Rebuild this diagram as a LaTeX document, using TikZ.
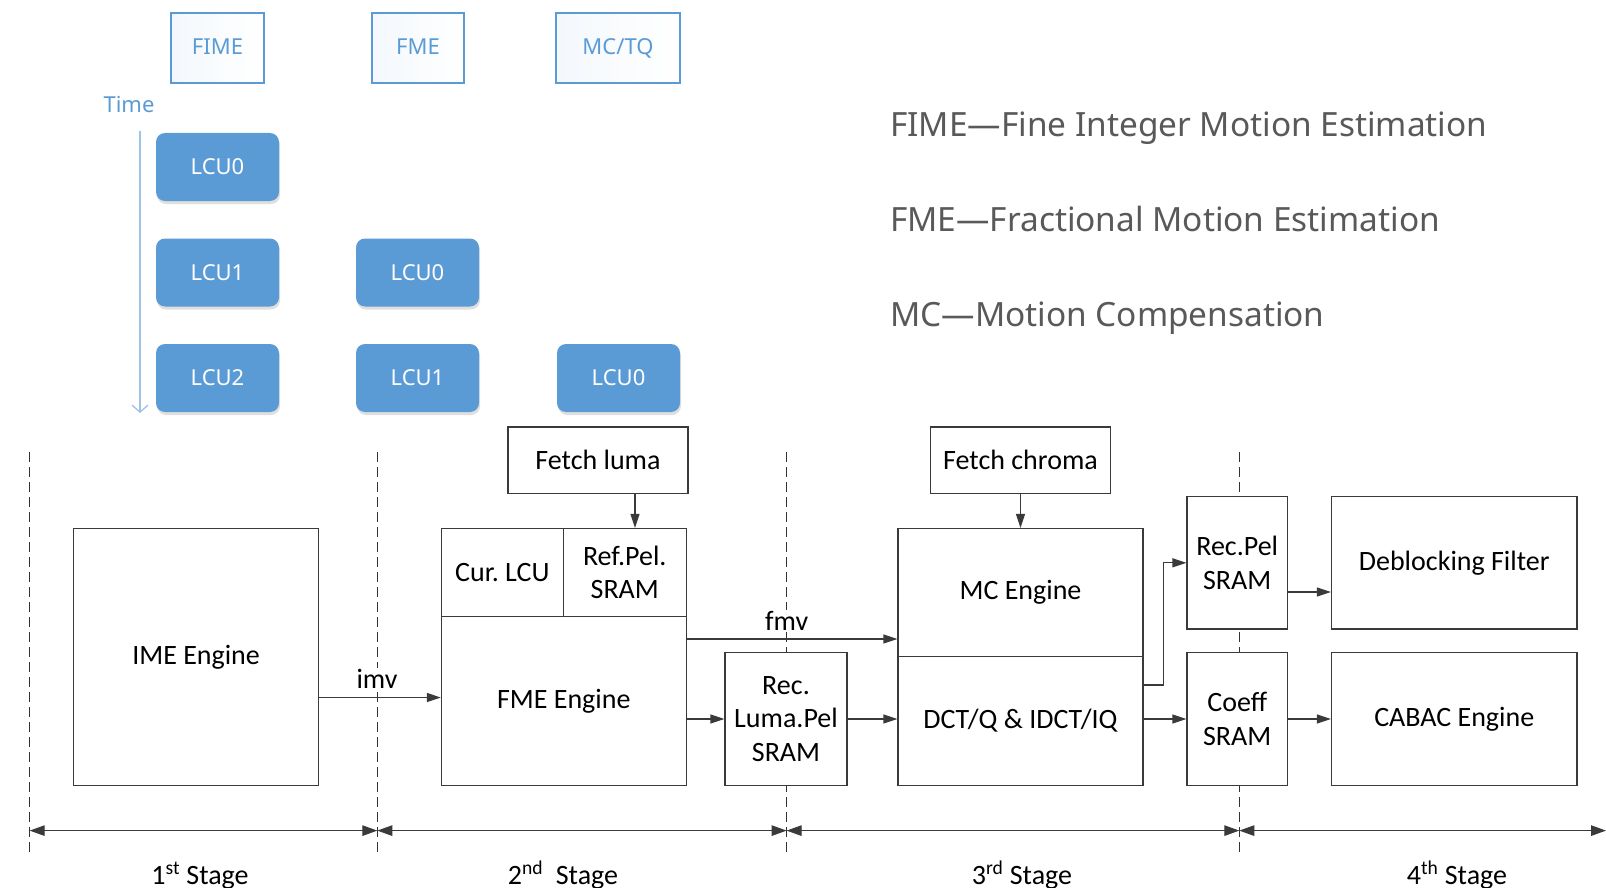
\documentclass[tikz,border=0pt]{standalone}
\usepackage{fontspec}
\setmainfont{Carlito}
\newfontfamily\notos{Noto Sans}
\usetikzlibrary{arrows.meta,shadows}
\definecolor{lcublue}{HTML}{5B9BD5}
\definecolor{timeblue}{HTML}{9DC3E6}
\definecolor{legendgray}{HTML}{595959}
\definecolor{linegray}{HTML}{3A3A3A}
\frenchspacing
\begin{document}
\begin{tikzpicture}[x=1pt,y=-1pt,
  box/.style={draw=linegray, line width=1.2pt, fill=white, inner sep=0pt, align=center, font=\fontsize{28}{33.5}\selectfont},
  topbox/.style={draw=lcublue, line width=1.3pt, left color=lcublue!7, right color=white, inner sep=0pt, text=lcublue, font=\notos\fontsize{22}{24}\selectfont, minimum height=70pt, text height=13.7pt, text depth=0pt},
  lcu/.style={fill=lcublue, rounded corners=9pt, minimum width=123pt, minimum height=68pt, inner sep=0pt, text=white, font=\notos\fontsize{22}{24}\selectfont, drop shadow={shadow xshift=1pt, shadow yshift=-3pt, opacity=0.25}},
  timearr/.style={draw=timeblue, line width=1.3pt, -{Straight Barb[length=7pt,width=16pt]}},
  arr/.style={draw=linegray, line width=1.2pt, -{Triangle[length=14pt,width=9pt]}},
  stagearr/.style={draw=linegray, line width=1.2pt, {Triangle[length=15pt,width=10.5pt]}-{Triangle[length=15pt,width=10.5pt]}},
  stagediv/.style={draw=black!80, line width=1.1pt, dash pattern=on 10pt off 5pt},
  legend/.style={anchor=base west, text=legendgray, font=\notos\fontsize{33.4}{40}\selectfont, inner sep=0pt},
  lbl/.style={fill=white, inner sep=1pt, font=\fontsize{28}{33.5}\selectfont},
  stage/.style={anchor=base, inner sep=0pt, font=\fontsize{28}{33.5}\selectfont}
]
\useasboundingbox (0,0) rectangle (1606,888);

% ---------- top: pipeline schedule ----------
\node[topbox, minimum width=93pt] (fime) at (217.5,48) {FIME};
\node[topbox, minimum width=92pt] (fme) at (418,48) {FME};
\node[topbox, minimum width=124pt] (mctq) at (618,48) {MC/TQ};
\node[text=lcublue, inner sep=0pt, font=\notos\fontsize{22}{24}\selectfont] (time) at (129,105) {Time};
\coordinate (t0) at (140,131);
\coordinate (t1) at (140,413);
\draw[timearr] (t0) -- (t1);

\node[lcu] (a0) at (217.5,167) {LCU0};
\node[lcu] (a1) at (217.5,272.5) {LCU1};
\node[lcu] (a2) at (217.5,378) {LCU2};
\node[lcu] (b0) at (417.5,272.5) {LCU0};
\node[lcu] (b1) at (417.5,378) {LCU1};
\node[lcu] (c0) at (618.5,378) {LCU0};

% ---------- legend ----------
\node[legend] (lg1) at (890,136) {FIME—Fine Integer Motion Estimation};
\node[legend] (lg2) at (890,231) {FME—Fractional Motion Estimation};
\node[legend] (lg3) at (890,326) {MC—Motion Compensation};

% ---------- stage dividers ----------
\coordinate (d1t) at (29.7,452);   \coordinate (d1b) at (29.7,854);
\coordinate (d2t) at (377.3,452);  \coordinate (d2b) at (377.3,854);
\coordinate (d3t) at (786.6,452);  \coordinate (d3b) at (786.6,854);
\coordinate (d4t) at (1239.3,452); \coordinate (d4b) at (1239.3,854);
\draw[stagediv] (d1t) -- (d1b);
\draw[stagediv] (d2t) -- (d2b);
\draw[stagediv] (d3t) -- (d3b);
\draw[stagediv] (d4t) -- (d4b);

% ---------- blocks ----------
\node[box, minimum width=244.8pt, minimum height=257.1pt] (ime) at (196.1,657) {IME Engine};

\node[box, minimum width=180pt, minimum height=66.7pt] (fetchluma) at (598,460.35) {Fetch luma};
\node[box, minimum width=121.9pt, minimum height=88.1pt] (curlcu) at (502.35,572.55) {Cur. LCU};
\node[box, minimum width=122.9pt, minimum height=88.1pt] (refpel) at (624.75,572.55) {Ref.Pel.\\SRAM};
\node[box, minimum width=244.8pt, minimum height=169pt] (fmeeng) at (563.8,701.1) {FME Engine};

\node[box, minimum width=122pt, minimum height=133.2pt] (reclum) at (786,719) {Rec.\\Luma.Pel\\SRAM};

\node[box, minimum width=180pt, minimum height=66.7pt] (fetchchroma) at (1020.5,460.35) {Fetch chroma};
\node[box, minimum width=245pt, minimum height=128pt] (mc) at (1020.5,592.5) {MC Engine};
\node[box, minimum width=245pt, minimum height=129.1pt] (dct) at (1020.5,721.05) {DCT/Q \& IDCT/IQ};

\node[box, minimum width=100.4pt, minimum height=132.2pt] (recpel) at (1237.2,562.8) {Rec.Pel\\SRAM};
\node[box, minimum width=100.4pt, minimum height=133.2pt] (coeff) at (1237.2,719) {Coeff\\SRAM};

\node[box, minimum width=245.5pt, minimum height=132.2pt] (deblock) at (1454.25,562.8) {Deblocking Filter};
\node[box, minimum width=245.5pt, minimum height=133.2pt] (cabac) at (1454.25,719) {CABAC Engine};

% ---------- connectors ----------
\coordinate (iy) at (0,697.5);
\draw[arr] (ime.east |- iy) -- (fmeeng.west |- iy);
\node[lbl] (imv) at (377,679) {imv};

\coordinate (lx) at (635,0);
\draw[arr] (fetchluma.south -| lx) -- (refpel.north -| lx);

\coordinate (fy) at (0,639);
\draw[arr] (fmeeng.east |- fy) -- (mc.west |- fy);
\node[lbl] (fmv) at (786.6,620.6) {fmv};

\draw[arr] (fmeeng.east |- reclum.west) -- (reclum.west);
\draw[arr] (reclum.east) -- (dct.west |- reclum.east);

\draw[arr] (fetchchroma.south) -- (mc.north);

\coordinate (bend) at (1163.5,685);
\draw[arr] (dct.east |- bend) -- (bend) |- (recpel.west);
\draw[arr] (dct.east |- coeff.west) -- (coeff.west);

\coordinate (dy) at (0,592);
\draw[arr] (recpel.east |- dy) -- (deblock.west |- dy);
\draw[arr] (coeff.east) -- (cabac.west);

% ---------- stage arrows ----------
\coordinate (s0) at (29.7,830.6);
\coordinate (s1) at (377.3,830.6);
\coordinate (s2) at (786.6,830.6);
\coordinate (s3) at (1239.3,830.6);
\coordinate (s4) at (1606,830.6);
\draw[stagearr] (s0) -- (s1);
\draw[stagearr] (s1) -- (s2);
\draw[stagearr] (s2) -- (s3);
\draw[stagearr] (s3) -- (s4);

\node[stage] (st1) at (200,884) {1\textsuperscript{st} Stage};
\node[stage] (st2) at (563,884) {2\textsuperscript{nd}\ \ Stage};
\node[stage] (st3) at (1022,884) {3\textsuperscript{rd} Stage};
\node[stage] (st4) at (1457,884) {4\textsuperscript{th} Stage};
\end{tikzpicture}
\end{document}
